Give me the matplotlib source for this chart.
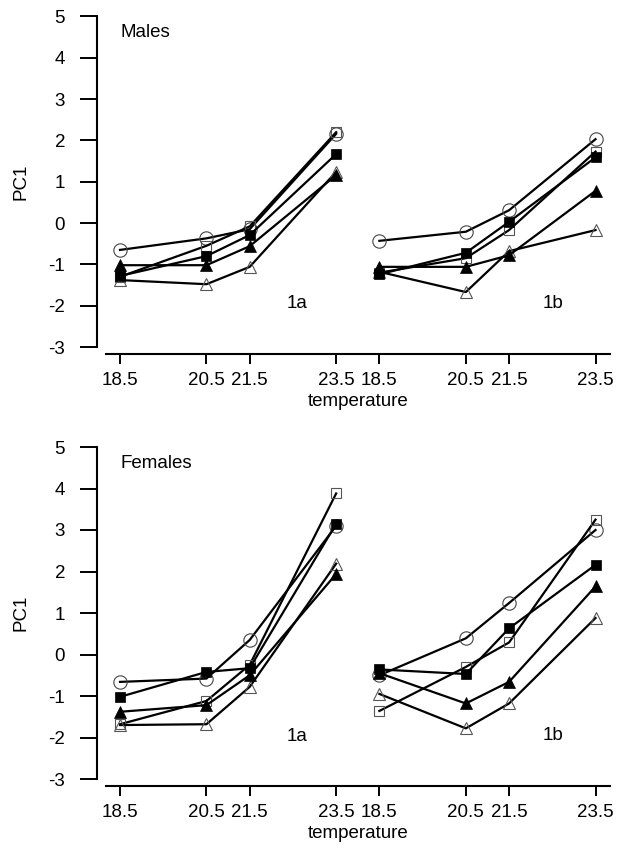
import matplotlib
matplotlib.use("Agg")
import matplotlib.pyplot as plt

plt.rcParams['font.family'] = ['Liberation Sans', 'DejaVu Sans']
plt.rcParams['axes.unicode_minus'] = False

# ---- data ----
temps = [18.5, 20.5, 21.5, 23.5]
shift_1b = 6.0  # horizontal offset of experiment 1b block on the shared axis
tick_labels = ['18.5', '20.5', '21.5', '23.5', '18.5', '20.5', '21.5', '23.5']
yticks = [-3, -2, -1, 0, 1, 2, 3, 4, 5]

# Males, experiment 1a
m1a_circle = [-0.65, -0.37, -0.15, 2.16]
m1a_fsquare = [-1.28, -0.80, -0.29, 1.67]
m1a_osquare = [-1.30, -0.55, -0.08, 2.20]
m1a_ftri = [-1.02, -1.02, -0.56, 1.16]
m1a_otri = [-1.38, -1.48, -1.06, 1.24]
# Males, experiment 1b
m1b_circle = [-0.43, -0.21, 0.31, 2.03]
m1b_fsquare = [-1.24, -0.72, 0.03, 1.59]
m1b_osquare = [-1.20, -0.85, -0.17, 1.73]
m1b_ftri = [-1.06, -1.06, -0.78, 0.78]
m1b_otri = [-1.18, -1.67, -0.68, -0.17]
# Females, experiment 1a
f1a_circle = [-0.66, -0.58, 0.35, 3.10]
f1a_fsquare = [-1.02, -0.42, -0.33, 3.15]
f1a_osquare = [-1.68, -1.12, -0.25, 3.88]
f1a_ftri = [-1.38, -1.22, -0.50, 1.94]
f1a_otri = [-1.70, -1.68, -0.78, 2.19]
# Females, experiment 1b
f1b_circle = [-0.50, 0.39, 1.24, 3.00]
f1b_fsquare = [-0.36, -0.47, 0.63, 2.16]
f1b_osquare = [-1.36, -0.30, 0.29, 3.25]
f1b_ftri = [-0.45, -1.18, -0.66, 1.64]
f1b_otri = [-0.95, -1.78, -1.18, 0.88]

styles = {
    'circle': dict(marker='o', ms=9.6, mfc='none', mec='#444444', mew=0.8),
    'osquare': dict(marker='s', ms=7.0, mfc='none', mec='#555555', mew=0.8),
    'otri': dict(marker='^', ms=8.8, mfc='none', mec='#555555', mew=0.8),
    'ftri': dict(marker='^', ms=8.8, mfc='black', mec='black', mew=0.5),
    'fsquare': dict(marker='s', ms=7.0, mfc='black', mec='black', mew=0.5),
}

panels = [
    dict(title='Males',
         a=dict(circle=m1a_circle, osquare=m1a_osquare, otri=m1a_otri, ftri=m1a_ftri, fsquare=m1a_fsquare),
         b=dict(circle=m1b_circle, osquare=m1b_osquare, otri=m1b_otri, ftri=m1b_ftri, fsquare=m1b_fsquare)),
    dict(title='Females',
         a=dict(circle=f1a_circle, osquare=f1a_osquare, otri=f1a_otri, ftri=f1a_ftri, fsquare=f1a_fsquare),
         b=dict(circle=f1b_circle, osquare=f1b_osquare, otri=f1b_otri, ftri=f1b_ftri, fsquare=f1b_fsquare)),
]

W, H = 627, 847
fig = plt.figure(figsize=(W / 100, H / 100), dpi=100)

FS = 13.5
left = 106 / W
width = (610 - 106) / W
# (top px, bottom px, y=-3 px)
boxes = [(16.5, 354, 347), (447, 786, 779)]
xlim = (18.176, 29.835)

x_1a = temps
x_1b = [t + shift_1b for t in temps]
xticks = x_1a + x_1b

for p, (top_px, bot_px, m3_px) in zip(panels, boxes):
    ax = fig.add_axes([left, 1 - bot_px / H, width, (bot_px - top_px) / H])
    unit = (m3_px - top_px) / 8.0
    ybot = -3 - (bot_px - m3_px) / unit
    ax.set_ylim(ybot, 5)
    ax.set_xlim(*xlim)

    for key in ['circle', 'osquare', 'otri', 'ftri', 'fsquare']:
        st = styles[key]
        ax.plot(x_1a, p['a'][key], color='black', lw=1.6, zorder=3, clip_on=False, **st)
        ax.plot(x_1b, p['b'][key], color='black', lw=1.6, zorder=3, clip_on=False, **st)

    for s in ['top', 'right']:
        ax.spines[s].set_visible(False)
    ax.spines['left'].set_position(('outward', 9 * 72 / 100))
    ax.spines['left'].set_bounds(-3, 5)
    ax.spines['left'].set_linewidth(1.5)
    ax.spines['bottom'].set_linewidth(1.5)

    ax.set_yticks(yticks)
    ax.set_yticklabels([str(v) for v in yticks])
    ax.set_xticks(xticks)
    ax.set_xticklabels(tick_labels)
    ax.tick_params(axis='y', length=12, width=1.4, pad=11, labelsize=FS, direction='out')
    ax.tick_params(axis='x', length=7, width=1.4, pad=6, labelsize=FS, direction='out')
    ax.set_xlabel('temperature', fontsize=FS, labelpad=3)
    ax.patch.set_alpha(0)

    # text annotations (positions in pixel-derived figure fractions)
    fig.text(120 / W, 1 - (top_px + 16) / H, p['title'], fontsize=FS, ha='left', va='center')
    fig.text(297 / W, 1 - (m3_px - 43) / H, '1a', fontsize=FS, ha='center', va='center')
    fig.text(553 / W, 1 - (m3_px - 44) / H, '1b', fontsize=FS, ha='center', va='center')
    fig.text(21 / W, 1 - ((top_px + m3_px) / 2) / H, 'PC1', fontsize=FS, rotation=90,
             ha='center', va='center')

fig.savefig('out.png', dpi=100)
